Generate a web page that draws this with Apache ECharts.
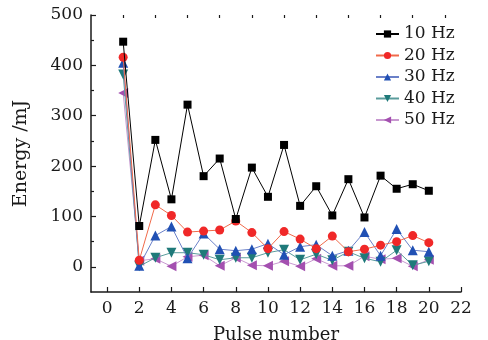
<!DOCTYPE html>
<html>
<head>
<meta charset="utf-8">
<style>
  html, body { margin: 0; padding: 0; background: #fff; }
  #chart { width: 488px; height: 340px; }
</style>
<script src="https://cdn.jsdelivr.net/npm/echarts@6/dist/echarts.min.js"></script>
</head>
<body>
<div id="chart"></div>
<script>
const pulses = [1, 2, 3, 4, 5, 6, 7, 8, 9, 10, 11, 12, 13, 14, 15, 16, 17, 18, 19, 20];
const hz10 = [447, 81, 252, 134, 322, 180, 215, 95, 197, 139, 242, 121, 160, 102, 174, 98, 181, 155, 164, 151];
const hz20 = [416, 13, 123, 102, 69, 71, 73, 91, 68, 36, 70, 55, 36, 61, 30, 35, 43, 50, 62, 48];
const hz30 = [405, 2, 62, 80, 17, 66, 35, 32, 35, 46, 24, 40, 44, 22, 32, 69, 22, 75, 33, 30];
const hz40 = [382, 1, 18, 28, 28, 24, 14, 18, 18, 28, 34, 14, 25, 13, 30, 17, 10, 33, 3, 11];
const hz50 = [345, 12, 16, 1, 20, 23, 2, 18, 3, 2, 11, 1, 16, 2, 2, 21, 15, 17, 1, 14];
const seriesNames = ['10 Hz', '20 Hz', '30 Hz', '40 Hz', '50 Hz'];
const xMajorTicks = [0, 2, 4, 6, 8, 10, 12, 14, 16, 18, 20, 22];
const xMinorTicks = [1, 3, 5, 7, 9, 11, 13, 15, 17, 19, 21];
const yMajorTicks = [0, 100, 200, 300, 400, 500];
const yMinorTicks = [50, 150, 250, 350, 450];

const chart = echarts.init(document.getElementById('chart'));
const font = 'DejaVu Serif';
const ink = '#1a1a1a';

const styles = [
  { symbol: 'rect', size: 8, fill: '#000000', line: '#000000' },
  { symbol: 'circle', size: 9, fill: '#f02828', line: '#f06a4a' },
  { symbol: 'triangle', size: 10, fill: '#2050b4', line: '#6a80c8' },
  { symbol: 'path://M0,0 L10,0 L5,9 Z', size: 10, fill: '#1f7a7a', line: '#5a9c9c' },
  { symbol: 'path://M9,0 L9,10 L0,5 Z', size: 10, fill: '#a450b0', line: '#c898d0' }
];
const values = [hz10, hz20, hz30, hz40, hz50];

const series = seriesNames.map((name, i) => ({
  name: name,
  type: 'line',
  xAxisIndex: 0,
  yAxisIndex: 0,
  data: pulses.map((p, j) => [p, values[i][j]]),
  symbol: styles[i].symbol,
  symbolSize: styles[i].size,
  itemStyle: { color: styles[i].fill },
  lineStyle: { color: styles[i].line, width: 1 },
  z: 10 - i
}));

const axisBase = {
  type: 'value',
  axisLine: { show: true, onZero: false, lineStyle: { color: ink, width: 1.5 } },
  splitLine: { show: false },
  nameTextStyle: { fontFamily: font, fontSize: 18, color: ink }
};

chart.setOption({
  animation: false,
  grid: { left: 91, right: 27, top: 15, bottom: 48, outerBoundsMode: 'none', containLabel: false },
  legend: {
    orient: 'vertical',
    left: 370,
    top: 20,
    itemGap: 3.5,
    itemWidth: 23,
    itemHeight: 9,
    textStyle: { fontFamily: font, fontSize: 17, lineHeight: 18, color: ink },
    data: seriesNames
  },
  xAxis: [
    Object.assign({}, axisBase, {
      min: -1,
      max: 22,
      name: 'Pulse number',
      nameLocation: 'middle',
      nameGap: 34,
      axisTick: { inside: true, length: 5, customValues: xMajorTicks, lineStyle: { color: ink, width: 1.2 } },
      axisLabel: { customValues: xMajorTicks, fontFamily: font, fontSize: 17, color: ink, margin: 8 }
    }),
    Object.assign({}, axisBase, {
      min: -1,
      max: 22,
      axisLine: { show: false, onZero: false },
      axisTick: { inside: true, length: 3, customValues: xMinorTicks, lineStyle: { color: ink, width: 1.2 } },
      axisLabel: { show: false }
    })
  ],
  yAxis: [
    Object.assign({}, axisBase, {
      min: -50,
      max: 500,
      name: 'Energy /mJ',
      nameLocation: 'middle',
      nameGap: 60,
      nameRotate: 90,
      nameTextStyle: { fontFamily: font, fontSize: 19, color: ink },
      axisTick: { inside: true, length: 5, customValues: yMajorTicks, lineStyle: { color: ink, width: 1.2 } },
      axisLabel: { customValues: yMajorTicks, fontFamily: font, fontSize: 17, color: ink, margin: 8 }
    }),
    Object.assign({}, axisBase, {
      min: -50,
      max: 500,
      position: 'left',
      axisLine: { show: false, onZero: false },
      axisTick: { inside: true, length: 3, customValues: yMinorTicks, lineStyle: { color: ink, width: 1.2 } },
      axisLabel: { show: false }
    })
  ],
  series: series
});
</script>
</body>
</html>
